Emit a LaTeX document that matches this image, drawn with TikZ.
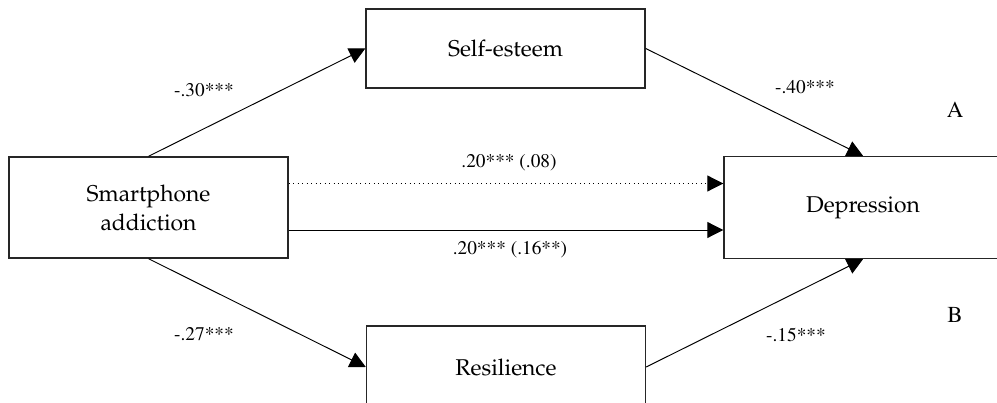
\documentclass[tikz,border=0pt]{standalone}
\usepackage[T1]{fontenc}
\usetikzlibrary{arrows.meta}

\newcommand{\boxfont}{\fontfamily{ppl}\fontsize{13}{16.5}\selectfont}
\newcommand{\coeffont}{\fontfamily{ptm}\fontsize{11}{13}\selectfont}
\newcommand{\panelfont}{\fontfamily{ptm}\fontsize{13}{15}\selectfont}

\begin{document}
\begin{tikzpicture}[varbox/.style={shape=rectangle,
					 draw=black!85,
					 line width=0.8pt,
					 fill=white,
					 minimum width=5.58cm,
					 align=center,
					 font=\boxfont},
				path/.style={line width=0.55pt,
					 -{Triangle[length=0.32cm,width=0.32cm]}},
				coef/.style={font=\coeffont}]
	\useasboundingbox (0,0) rectangle (19.94,-8.06);
	\clip (0,0) rectangle (19.94,-8.06);

	\draw (2.97,-4.15) node[varbox, 
					 minimum height=2.02cm](sp){Smartphone\\addiction};
	\draw (10.11,-0.97) node[varbox, 
					 minimum height=1.58cm](se){Self-esteem};
	\draw (10.12,-7.34) node[varbox, 
					 minimum height=1.64cm](res){Resilience};
	\draw (17.26,-4.15) node[varbox, 
					 minimum width=5.56cm,
					 minimum height=2.04cm](dep){Depression};

	% indirect paths
	\draw [path](sp.north) -- (se.west);
	\draw [path](se.east) -- (dep.north);
	\draw [path](sp.south) -- (res.west);
	\draw [path](res.east) -- (dep.south);

	% total and direct effect
	\draw [path, dotted]([yshift=0.48cm]sp.east) -- ([yshift=0.48cm]dep.west);
	\draw [path]([yshift=-0.45cm]sp.east) -- ([yshift=-0.45cm]dep.west);

	\draw (4.08,-1.80) node[coef](c1){-.30***};
	\draw (16.10,-1.74) node[coef](c2){-.40***};
	\draw (4.08,-6.68) node[coef](c3){-.27***};
	\draw (15.92,-6.70) node[coef](c4){-.15***};
	\draw (10.18,-3.26) node[coef](c5){.20*** (.08)};
	\draw (10.20,-5.00) node[coef](c6){.20*** (.16**)};

	\draw (19.10,-2.20) node[font=\panelfont](pa){A};
	\draw (19.10,-6.30) node[font=\panelfont](pb){B};
\end{tikzpicture}
\end{document}
